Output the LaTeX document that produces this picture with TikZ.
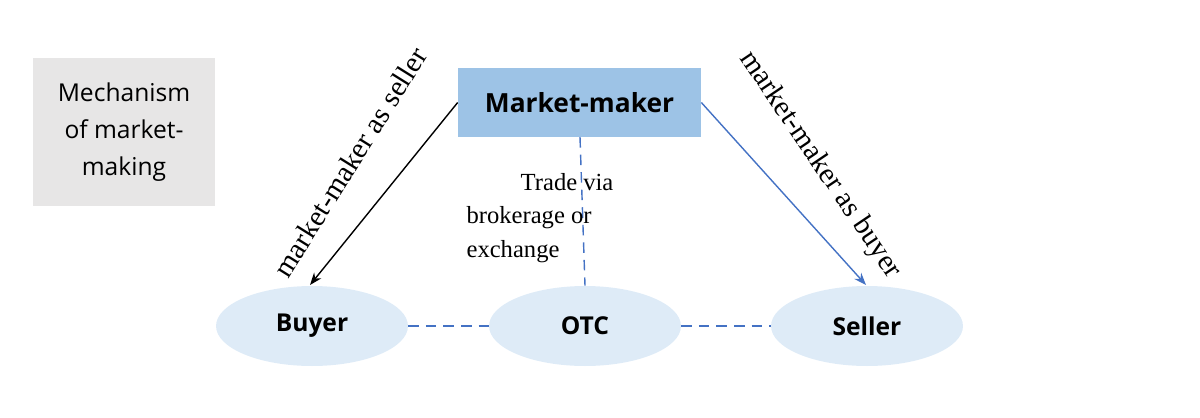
\documentclass[tikz,border=0pt]{standalone}
\usepackage{fontspec}
\setmainfont{Liberation Serif}
\newfontfamily\sans{Open Sans}
\usetikzlibrary{shapes.geometric,arrows.meta}
\definecolor{boxgray}{HTML}{E7E6E6}
\definecolor{mmblue}{HTML}{9DC3E6}
\definecolor{ovalblue}{HTML}{DEEBF7}
\definecolor{lineblue}{HTML}{4472C4}
\tikzset{
  party/.style={ellipse, fill=ovalblue, minimum width=3.84cm, minimum height=1.6cm, font=\sans\bfseries\fontsize{14}{16}\selectfont},
  link/.style={lineblue, dashed, dash pattern=on 6pt off 4pt, thick},
  role/.style={font=\fontsize{16.5}{18}\selectfont}
}
\begin{document}
\begin{tikzpicture}[x=0.02cm, y=-0.02cm]
\useasboundingbox (0,0) rectangle (1200,417);

% title box
\node[fill=boxgray, minimum width=3.64cm, minimum height=2.96cm, align=center,
      font=\sans\fontsize{14}{21}\selectfont] (title) at (124,132)
      {Mechanism\\of market-\\making};

% market maker
\node[fill=mmblue, minimum width=4.86cm, minimum height=1.38cm,
      font=\sans\bfseries\fontsize{15}{16}\selectfont] (mm) at (579.5,102.5) {Market-maker};

% parties
\node[party] (buyer) at (312,326) {Buyer};
\node[party] (otc) at (585,326) {OTC};
\node[party] (seller) at (867,326) {Seller};

\coordinate (mmdown) at (580,137);
\draw[link] (buyer) -- (otc);
\draw[link] (otc) -- (seller);
\draw[link] (mmdown) -- (otc.north);

\draw[-{Stealth[length=7pt]}, thick] (mm.west) -- (310,285);
\draw[-{Stealth[length=7pt]}, thick, lineblue] (mm.east) -- (866,285);

\node[role, rotate=58] (sl) at (350,162) {market-maker as seller};
\node[role, rotate=-56] (bl) at (820,165) {market-maker as buyer};

\node[align=left, font=\fontsize{14}{19}\selectfont] (trade) at (540,218)
  {\hspace*{2.2em}Trade via\\brokerage or\\exchange};
\end{tikzpicture}
\end{document}
